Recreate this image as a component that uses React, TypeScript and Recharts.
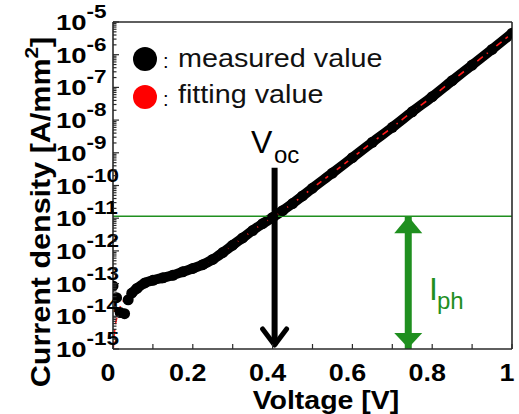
import { LineChart, Line, XAxis, YAxis, ReferenceLine, ReferenceDot } from "recharts";

// measured points below ~0.04 V (scattered, not joined)
const lowVoltage = [0, 0.009, 0.018, 0.029, 0.038];
const lowCurrent = [8.5e-14, 3.7e-14, 1.3e-14, 1.2e-14, 3.2e-14];

// measured J-V curve [V], [A/mm2]
const measuredVoltage = [
  0.047, 0.06, 0.08, 0.1, 0.125, 0.15, 0.175, 0.2, 0.225, 0.25, 0.275, 0.3, 0.325, 0.35, 0.375, 0.4,
  0.425, 0.45, 0.475, 0.5, 0.55, 0.6, 0.65, 0.7, 0.75, 0.8, 0.85, 0.9, 0.95, 1.0,
];
const measuredCurrent = [
  5.1e-14, 7.1e-14, 1.05e-13, 1.26e-13, 1.5e-13, 1.8e-13, 2.3e-13, 2.9e-13, 3.8e-13, 5.5e-13, 8.9e-13,
  1.5e-12, 2.5e-12, 4.2e-12, 6.8e-12, 1.05e-11, 1.7e-11, 2.8e-11, 4.8e-11, 8.3e-11, 2.4e-10, 7.1e-10,
  2.1e-9, 6.0e-9, 1.8e-8, 5.2e-8, 1.6e-7, 4.8e-7, 1.45e-6, 4.5e-6,
];

// fitting curve
const fitVoltage = [
  0.0008, 0.004, 0.01, 0.02, 0.03, 0.04, 0.05, 0.06, 0.08, 0.1, 0.125, 0.15, 0.175, 0.2, 0.225, 0.25,
  0.275, 0.3, 0.325, 0.35, 0.375, 0.4, 0.425, 0.45, 0.475, 0.5, 0.55, 0.6, 0.65, 0.7, 0.75, 0.8, 0.85,
  0.9, 0.95, 1.0,
];
const fitCurrent = [
  1.05e-15, 3.5e-15, 9.5e-15, 2.2e-14, 3.5e-14, 4.8e-14, 6.0e-14, 7.3e-14, 1.0e-13, 1.25e-13, 1.5e-13,
  1.8e-13, 2.3e-13, 2.9e-13, 3.8e-13, 5.5e-13, 8.9e-13, 1.5e-12, 2.5e-12, 4.2e-12, 6.8e-12, 1.05e-11,
  1.7e-11, 2.8e-11, 4.8e-11, 8.3e-11, 2.4e-10, 7.1e-10, 2.1e-9, 6.0e-9, 1.8e-8, 5.2e-8, 1.6e-7, 4.8e-7,
  1.45e-6, 4.5e-6,
];

const xTicks = [0, 0.1, 0.2, 0.3, 0.4, 0.5, 0.6, 0.7, 0.8, 0.9, 1];
const xTickLabels = ["0", "", "0.2", "", "0.4", "", "0.6", "", "0.8", "", "1"];
const decadeExponents = [-15, -14, -13, -12, -11, -10, -9, -8, -7, -6, -5];
const minorMultipliers = [2, 3, 4, 5, 6, 7, 8, 9];

const photoCurrent = 1.15e-11; // green I_ph level
const vocVoltage = 0.405;
const vocArrowTop = 3.5e-10;
const iphVoltage = 0.74;
const yMin = 1e-15;
const yMax = 1e-5;

const yTicks = decadeExponents.flatMap((e) =>
  e < -5 ? [Number(`1e${e}`), ...minorMultipliers.map((m) => Number(`${m}e${e}`))] : [Number(`1e${e}`)]
);

const lowData = lowVoltage.map((v, i) => ({ v, j: lowCurrent[i] }));
const measuredData = measuredVoltage.map((v, i) => ({ v, j: measuredCurrent[i] }));
const fitData = fitVoltage.map((v, i) => ({ v, j: fitCurrent[i] }));

const FONT = "'Liberation Sans', Arial, sans-serif";
const AXIS = "#2a2a2a";
const GREEN = "#1f8f1f";

const isDecade = (v: number) => {
  const l = Math.log10(v);
  return Math.abs(l - Math.round(l)) < 1e-6;
};

function LeftTick(props: any) {
  const { x, y, payload } = props;
  const v = payload.value as number;
  const major = isDecade(v);
  return (
    <g>
      <line x1={x} x2={x + (major ? 6 : 3.5)} y1={y} y2={y} stroke={AXIS} strokeWidth={1.2} />
      {major && (
        <g transform={`translate(${x - 57},${y + 8}) scale(1.25,1)`}>
          <text fontFamily={FONT} fontSize={22} fontWeight="bold" fill="#000">
            10
            <tspan dy={-12} fontSize={18}>
              {Math.round(Math.log10(v))}
            </tspan>
          </text>
        </g>
      )}
    </g>
  );
}

function RightTick(props: any) {
  const { x, y, payload } = props;
  const major = isDecade(payload.value);
  return <line x1={x} x2={x - (major ? 6 : 3.5)} y1={y} y2={y} stroke={AXIS} strokeWidth={1.2} />;
}

function BottomTick(props: any) {
  const { x, y, payload } = props;
  const label = xTickLabels[xTicks.indexOf(payload.value)] ?? "";
  return (
    <g>
      <line x1={x} x2={x} y1={y} y2={y - 5} stroke={AXIS} strokeWidth={1.2} />
      {label && (
        <g transform={`translate(${x - 5},${y + 31.5}) scale(1.12,1)`}>
          <text textAnchor="middle" fontFamily={FONT} fontSize={24} fontWeight="bold" fill="#000">
            {label}
          </text>
        </g>
      )}
    </g>
  );
}

function TopTick(props: any) {
  const { x, y } = props;
  return <line x1={x} x2={x} y1={y} y2={y + 6} stroke={AXIS} strokeWidth={1.2} />;
}

const Chevron = (props: any) => {
  const { cx, cy } = props;
  return (
    <polyline
      points={`${cx - 12},${cy - 20} ${cx},${cy - 4} ${cx + 12},${cy - 20}`}
      fill="none"
      stroke="#000"
      strokeWidth={5}
      strokeLinecap="round"
      strokeLinejoin="round"
    />
  );
};

const HeadUp = (props: any) => {
  const { cx, cy } = props;
  return <polygon points={`${cx},${cy} ${cx - 14},${cy + 17} ${cx + 14},${cy + 17}`} fill={GREEN} />;
};

const HeadDown = (props: any) => {
  const { cx, cy } = props;
  return <polygon points={`${cx},${cy - 1} ${cx - 14},${cy - 16} ${cx + 14},${cy - 16}`} fill={GREEN} />;
};

export default function App() {
  return (
    <div style={{ position: "absolute", left: 0, top: 0, width: 519, height: 414, background: "#fff" }}>
      <LineChart width={519} height={414} margin={{ top: 0, right: 0, bottom: 0, left: 0 }}>
        <XAxis
          dataKey="v"
          type="number"
          domain={[0, 1]}
          ticks={xTicks}
          interval={0}
          allowDataOverflow
          height={65}
          tickSize={0}
          tickMargin={0}
          tick={<BottomTick />}
          axisLine={{ stroke: AXIS, strokeWidth: 1.6 }}
        />
        <XAxis
          xAxisId="t"
          orientation="top"
          type="number"
          domain={[0, 1]}
          ticks={xTicks}
          interval={0}
          height={22}
          tickSize={0}
          tickMargin={0}
          tick={<TopTick />}
          axisLine={{ stroke: AXIS, strokeWidth: 1.6 }}
        />
        <YAxis
          scale="log"
          type="number"
          domain={[yMin, yMax]}
          ticks={yTicks}
          interval={0}
          allowDataOverflow
          width={113}
          tickSize={0}
          tickMargin={0}
          tick={<LeftTick />}
          axisLine={{ stroke: AXIS, strokeWidth: 1.6 }}
        />
        <YAxis
          yAxisId="r"
          orientation="right"
          scale="log"
          type="number"
          domain={[yMin, yMax]}
          ticks={yTicks}
          interval={0}
          width={7}
          tickSize={0}
          tickMargin={0}
          tick={<RightTick />}
          axisLine={{ stroke: AXIS, strokeWidth: 1.6 }}
        />

        <Line
          data={lowData}
          dataKey="j"
          stroke="none"
          dot={{ r: 5.5, fill: "#000", stroke: "none" }}
          isAnimationActive={false}
        />
        <Line
          data={measuredData}
          dataKey="j"
          type="monotone"
          stroke="#000"
          strokeWidth={10}
          dot={{ r: 5.5, fill: "#000", stroke: "none" }}
          isAnimationActive={false}
        />
        <Line
          data={fitData}
          dataKey="j"
          type="monotone"
          stroke="#ff1a1a"
          strokeWidth={1.6}
          strokeDasharray="7 5"
          dot={false}
          isAnimationActive={false}
        />

        <ReferenceLine y={photoCurrent} stroke={GREEN} strokeWidth={1.5} />
        <ReferenceLine
          segment={[
            { x: vocVoltage, y: vocArrowTop },
            { x: vocVoltage, y: 1.3e-15 },
          ]}
          stroke="#000"
          strokeWidth={6}
        />
        <ReferenceDot x={vocVoltage} y={yMin} shape={<Chevron />} />
        <ReferenceLine
          segment={[
            { x: iphVoltage, y: photoCurrent },
            { x: iphVoltage, y: yMin },
          ]}
          stroke={GREEN}
          strokeWidth={7}
        />
        <ReferenceDot x={iphVoltage} y={photoCurrent} shape={<HeadUp />} />
        <ReferenceDot x={iphVoltage} y={yMin} shape={<HeadDown />} />
      </LineChart>

      <svg
        width={519}
        height={414}
        style={{ position: "absolute", left: 0, top: 0, pointerEvents: "none" }}
        fontFamily={FONT}
      >
        <circle cx={145} cy={59} r={12} fill="#000" />
        <text x={163} y={68} fontSize={20} fill="#000">:</text>
        <g transform="translate(178,67) scale(1.15,1)">
          <text fontSize={25} fill="#111">measured value</text>
        </g>
        <circle cx={145} cy={97} r={12} fill="#ff0000" />
        <text x={163} y={106} fontSize={20} fill="#000">:</text>
        <g transform="translate(178,103) scale(1.15,1)">
          <text fontSize={25} fill="#111">fitting value</text>
        </g>

        <text x={251} y={153} fontSize={32} fill="#000">V</text>
        <text x={274} y={163} fontSize={24} fill="#000">oc</text>
        <text x={429} y={300} fontSize={32} fill={GREEN}>I</text>
        <text x={437} y={309} fontSize={24} fill={GREEN}>ph</text>

        <g transform="translate(326,408.5) scale(1.14,1)">
          <text textAnchor="middle" fontSize={25} fontWeight="bold" fill="#000">Voltage [V]</text>
        </g>
        <g transform="translate(50,212) rotate(-90) scale(1.09,1)">
          <text textAnchor="middle" fontSize={28} fontWeight="bold" fill="#000">
            Current density [A/mm<tspan dy={-12} fontSize={19}>2</tspan>
            <tspan dy={12}>]</tspan>
          </text>
        </g>
      </svg>
    </div>
  );
}
